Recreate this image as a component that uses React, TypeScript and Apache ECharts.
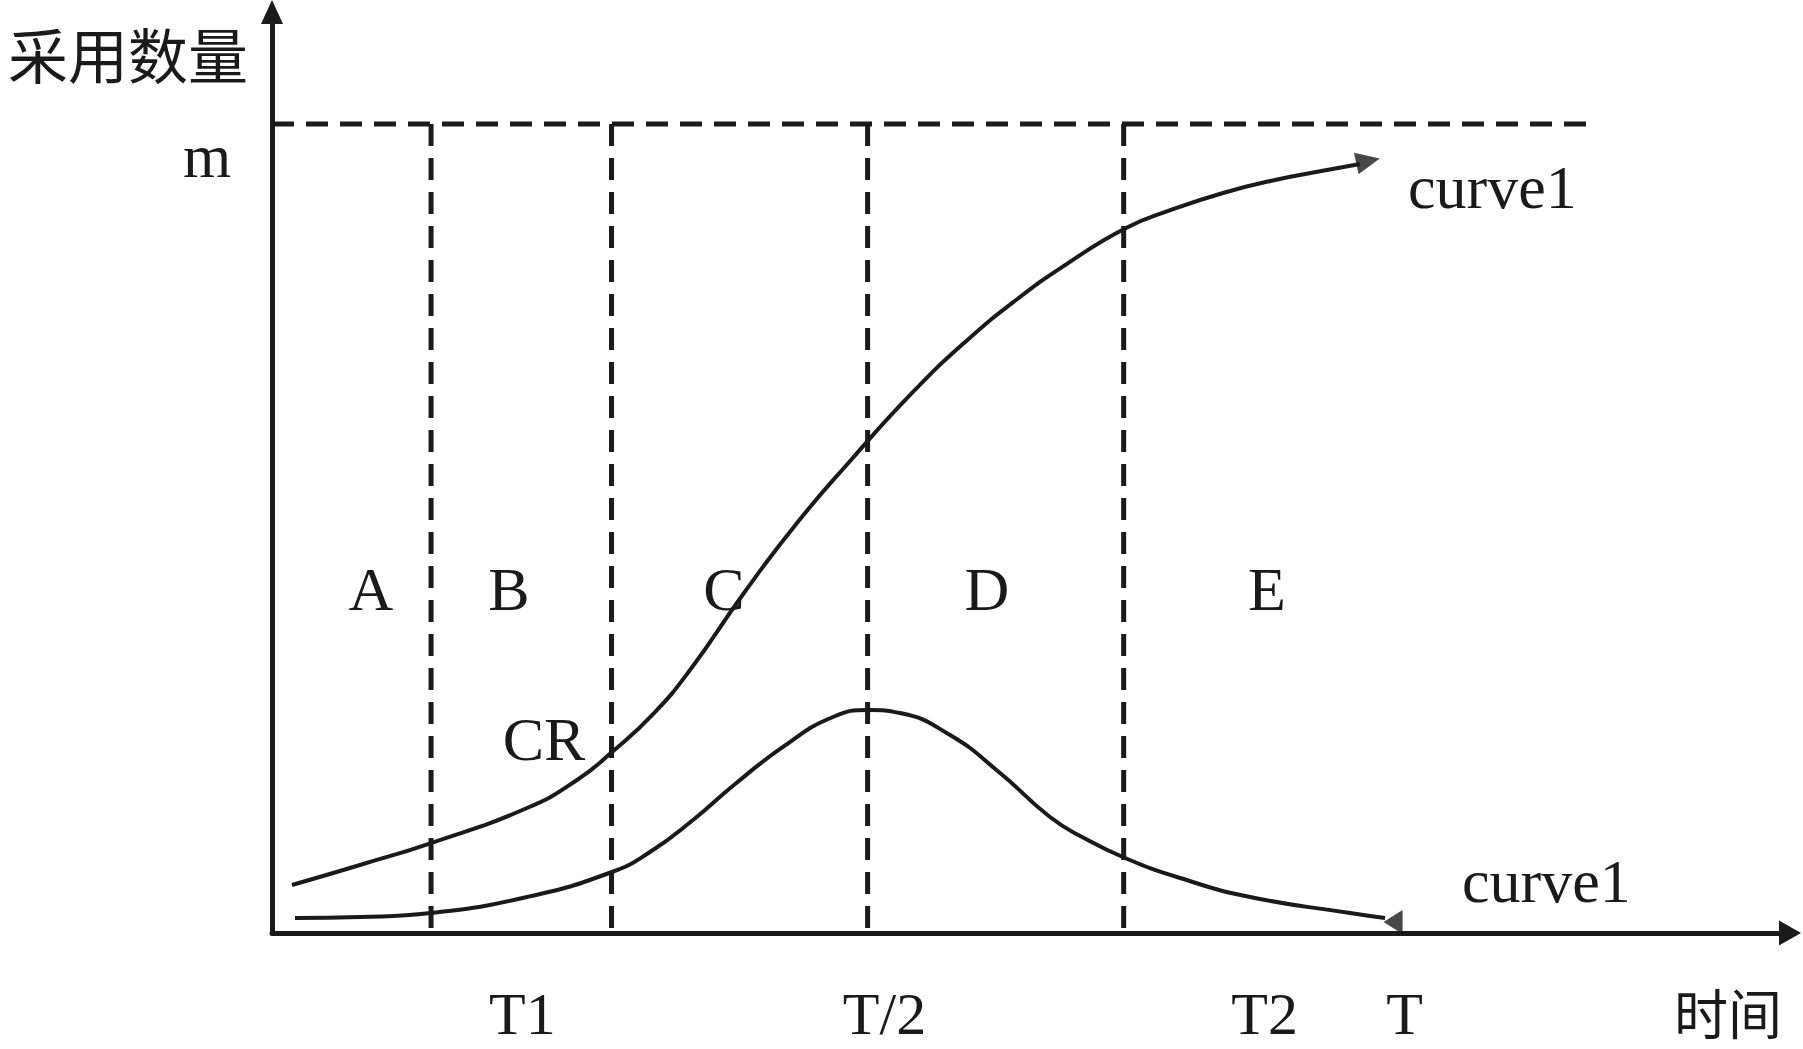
import React, { useEffect, useRef } from "react";
import * as echarts from "echarts";

// Time axis: T = 100 units; adoption axis: m = 100 units
const upperX = [1.77, 7.8, 14.1, 22.61, 27.04, 30.14, 33.87, 37.06, 41.84, 46.54, 51.33, 56.74, 61.35, 65.96, 70.57, 75.71, 79.7, 84.31, 88.92, 93.53, 96.45];
const upperY = [5.93, 8.41, 11.12, 15.45, 18.91, 22.37, 27.19, 32.51, 42.03, 50.68, 58.47, 66.75, 72.93, 78.24, 82.8, 87.14, 89.37, 91.47, 93.08, 94.31, 95.06];

const lowerX = [2.04, 7.8, 14.1, 22.61, 30.14, 33.51, 37.32, 40.87, 45.3, 49.73, 52.93, 55.67, 60.11, 64.54, 68.97, 71.9, 75.62, 80.5, 86.7, 95.57, 98.67];
const lowerY = [1.85, 1.98, 2.47, 4.45, 7.54, 10.01, 13.97, 18.2, 23.0, 26.7, 27.56, 27.19, 24.47, 19.78, 14.34, 11.8, 9.27, 6.8, 4.45, 2.47, 1.85];

const dividerX = [14.1, 30.1, 52.8, 75.5];
const mValue = 100;
const mLineEnd = 116.5;

const upperArrow = [97.16, 95.43];
const lowerArrow = [99.38, 1.36];

const tickValues = [22.2, 54.3, 88.0, 100.4];
const tickNames = ["T1", "T/2", "T2", "T"];

const INK = "#1a1a1a";
const SERIF = '"Liberation Serif", "DejaVu Serif", serif';
const CJK = '"Noto Sans CJK SC", sans-serif';

export default function App() {
  const ref = useRef<HTMLDivElement>(null);
  useEffect(() => {
    if (!ref.current) return;
    const chart = echarts.init(ref.current, undefined, { renderer: "svg" });
    const dashStyle = { color: INK, width: 5, type: [22, 12] as any };
    const series: any[] = [
      {
        type: "line",
        data: upperX.map((x, i) => [x, upperY[i]]),
        smooth: 0.5,
        symbol: "none",
        lineStyle: { color: INK, width: 4 },
        z: 5,
      },
      {
        type: "line",
        data: lowerX.map((x, i) => [x, lowerY[i]]),
        smooth: 0.5,
        symbol: "none",
        lineStyle: { color: INK, width: 4 },
        z: 5,
      },
      {
        type: "line",
        data: [
          [0, mValue],
          [mLineEnd, mValue],
        ],
        symbol: "none",
        lineStyle: dashStyle,
        z: 3,
      },
      ...dividerX.map((x) => ({
        type: "line",
        data: [
          [x, mValue],
          [x, 0],
        ],
        symbol: "none",
        lineStyle: dashStyle,
        z: 3,
      })),
      {
        type: "scatter",
        data: [upperArrow],
        symbol: "triangle",
        symbolSize: [22, 24],
        symbolRotate: -78,
        itemStyle: { color: INK },
        z: 6,
      },
      {
        type: "scatter",
        data: [lowerArrow],
        symbol: "triangle",
        symbolSize: [24, 19],
        symbolRotate: 90,
        itemStyle: { color: INK },
        z: 6,
      },
    ];

    const txt = (text: string, x: number, y: number, size: number, family: string, align = "center") => ({
      type: "text",
      x,
      y,
      style: {
        text,
        fontSize: size,
        fontFamily: family,
        lineHeight: Math.round(size * 0.82),
        fill: INK,
        textAlign: align,
        textVerticalAlign: "middle",
      },
      z: 10,
    });

    chart.setOption({
      animation: false,
      backgroundColor: "#ffffff",
      grid: { left: 272, right: 13, top: 12, bottom: 116, containLabel: false },
      xAxis: {
        type: "value",
        min: 0,
        max: 134.57,
        axisLine: {
          show: true,
          symbol: ["none", "triangle"],
          symbolSize: [25, 22],
          lineStyle: { color: INK, width: 5 },
        },
        axisTick: { show: false },
        splitLine: { show: false },
        axisLabel: {
          show: true,
          customValues: tickValues,
          margin: 58,
          fontSize: 60,
          lineHeight: 46,
          fontFamily: SERIF,
          color: INK,
          formatter: (v: number) => {
            let best = 0;
            tickValues.forEach((t, i) => {
              if (Math.abs(t - v) < Math.abs(tickValues[best] - v)) best = i;
            });
            return tickNames[best];
          },
        },
      },
      yAxis: {
        type: "value",
        min: 0,
        max: 113.84,
        axisLine: {
          show: true,
          symbol: ["none", "triangle"],
          symbolSize: [22, 24],
          lineStyle: { color: INK, width: 5 },
        },
        axisTick: { show: false },
        splitLine: { show: false },
        axisLabel: { show: false },
      },
      graphic: [
        txt("采用数量", 128, 52, 60, CJK),
        txt("时间", 1728, 1011, 54, CJK),
        txt("m", 207, 156, 62, SERIF),
        txt("A", 371, 589, 62, SERIF),
        txt("B", 509, 589, 62, SERIF),
        txt("C", 724, 589, 62, SERIF),
        txt("D", 987, 589, 62, SERIF),
        txt("E", 1267, 589, 62, SERIF),
        txt("CR", 544, 739, 62, SERIF),
        txt("curve1", 1408, 187, 62, SERIF, "left"),
        txt("curve1", 1462, 881, 62, SERIF, "left"),
      ],
      series,
    });
    return () => chart.dispose();
  }, []);
  return (
    <div
      ref={ref}
      style={{ position: "fixed", left: 0, top: 0, width: 1803, height: 1049, background: "#fff" }}
    />
  );
}
